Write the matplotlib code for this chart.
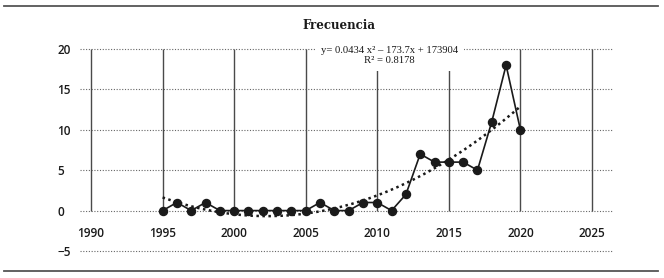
import numpy as np
import matplotlib.pyplot as plt
from matplotlib.lines import Line2D

# Datos
years = np.arange(1995, 2021)
freq = np.array([0, 1, 0, 1, 0, 0, 0, 0, 0, 0, 0, 1, 0, 0, 1, 1, 0, 2,
                 7, 6, 6, 6, 5, 11, 18, 10])
x_ticks = [1990, 1995, 2000, 2005, 2010, 2015, 2020, 2025]
y_ticks = [-5, 0, 5, 10, 15, 20]
titulo = "Frecuencia"
ecuacion = "y= 0.0434 x\u00b2 \u2013 173.7x + 173904\nR\u00b2 = 0.8178"

# Tendencia polinomica de orden 2
coef = np.polyfit(years, freq, 2)
xt = np.linspace(years[0], years[-1], 200)
yt = np.polyval(coef, xt)

dark = '#1a1a1a'
grey = '#4a4a4a'

fig = plt.figure(figsize=(6.64, 2.78), dpi=100)
ax = fig.add_axes([0.1205, 0.0914, 0.8027, 0.7381])

ax.set_xlim(1989.23, 2026.47)
ax.set_ylim(-5.2, 20.2)

# Lineas horizontales punteadas
for yv in y_ticks:
    ax.axhline(yv, color='#666666', lw=0.8, ls=(0, (1, 1.5)), zorder=1)

# Lineas verticales de 0 a 20
ax.vlines(x_ticks, 0, 20, color=grey, lw=1.0, zorder=1)

ax.plot(xt, yt, color=dark, lw=1.8, ls=(0, (1, 1.4)),
        dash_capstyle='butt', zorder=2)
ax.plot(years, freq, color=dark, lw=1.2, marker='o', ms=5.8, zorder=3)

ax.text(2010.86, 19.16, ecuacion, ha='center', va='center',
        fontsize=7.7, family='Liberation Serif', color=dark,
        linespacing=1.1, zorder=4,
        bbox=dict(boxstyle='square,pad=0.55', fc='white', ec='none'))

for s in ax.spines.values():
    s.set_visible(False)
ax.spines['bottom'].set_position(('data', 0))

ax.set_xticks(x_ticks)
ax.set_yticks(y_ticks)
ax.set_yticklabels(['\u22125' if v < 0 else str(v) for v in y_ticks])
ax.tick_params(axis='x', length=0, pad=11.5, labelsize=8.5, colors=dark)
ax.tick_params(axis='y', length=0, pad=16.5, labelsize=8.5, colors=dark)
for lab in ax.get_xticklabels() + ax.get_yticklabels():
    lab.set_family('Open Sans')
    lab.set_weight('semibold')
for lab in ax.get_yticklabels():
    lab.set_horizontalalignment('left')

fig.text(0.5105, 0.910, titulo, ha='center', va='center', fontsize=8.5,
         family='DejaVu Serif', weight='bold', color=dark)

# Reglas superior e inferior
fig.add_artist(Line2D([0.006, 0.991], [0.980, 0.980], color='#555555', lw=1.3))
fig.add_artist(Line2D([0.006, 0.991], [0.025, 0.025], color='#555555', lw=1.3))

fig.savefig('out.png', dpi=100)
